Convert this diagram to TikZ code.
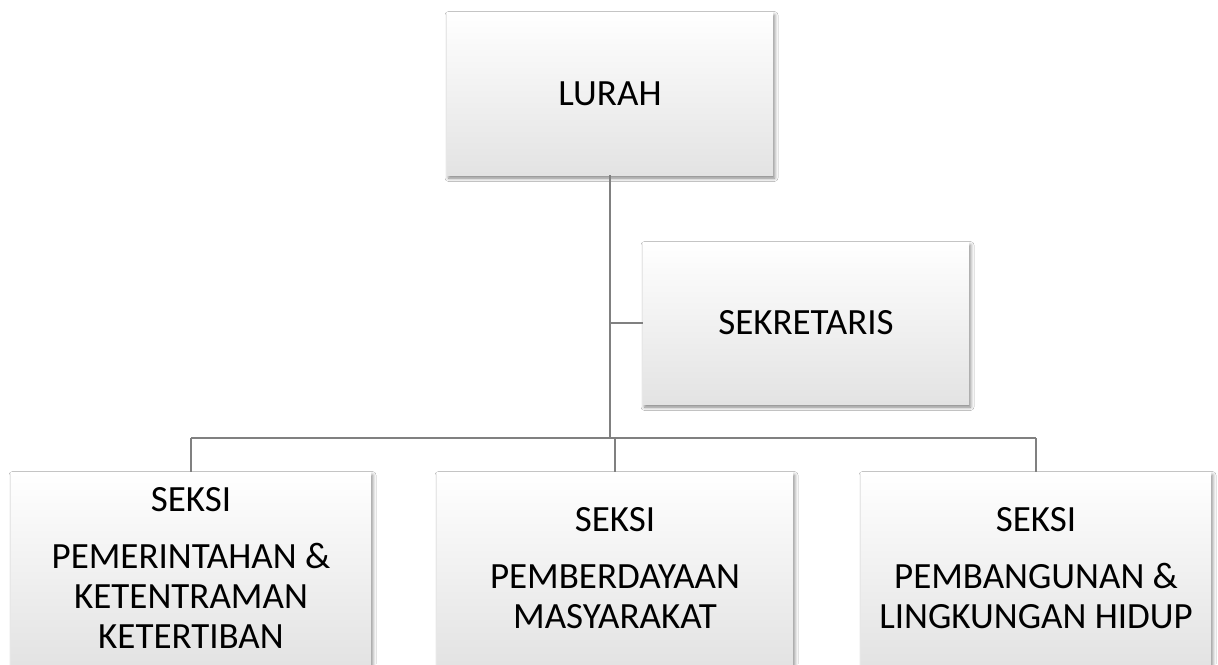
\documentclass[tikz,border=0pt]{standalone}
\usepackage{fontspec}
\setmainfont{Carlito}
\usetikzlibrary{shadows.blur}
\begin{document}
\begin{tikzpicture}[x=1pt,y=-1pt,
  orgbox/.style={rectangle, inner sep=0pt, outer sep=0pt,
    top color=white, middle color=white, bottom color=black!11,
    blur shadow={shadow xshift=1.5pt, shadow yshift=-3pt, shadow blur radius=3.5pt, shadow opacity=50},
    font=\fontsize{37}{40}\selectfont, align=center},
  link/.style={draw=black!50, line width=2.3pt}]
\clip (0,0) rectangle (1218,664);
\fill[white] (0,0) rectangle (1218,664);
% boxes
\node[orgbox, minimum width=326pt, minimum height=163pt] (lurah) at (610,93.5) {LURAH};
\node[orgbox, minimum width=326pt, minimum height=162pt] (sek) at (806,323) {SEKRETARIS};
\node[orgbox, anchor=north, minimum width=360pt, minimum height=192pt] (b1) at (191,472)
  {SEKSI\\[17pt]PEMERINTAHAN \&\\KETENTRAMAN\\KETERTIBAN};
\node[orgbox, anchor=north, minimum width=356pt, minimum height=192pt] (b2) at (615,472)
  {SEKSI\\[17pt]PEMBERDAYAAN\\MASYARAKAT};
\node[orgbox, anchor=north, minimum width=350pt, minimum height=192pt] (b3) at (1036,472)
  {SEKSI\\[17pt]PEMBANGUNAN \&\\LINGKUNGAN HIDUP};
\coordinate (bus) at ([yshift=34pt]lurah.south |- b1.north);
% connectors
\draw[link] (lurah.south) -- (bus);
\draw[link] (lurah.south |- sek.west) -- (sek.west);
\draw[link] (b1.north |- bus) -- (b3.north |- bus);
\draw[link] (b1.north |- bus) -- (b1.north);
\draw[link] (b2.north |- bus) -- (b2.north);
\draw[link] (b3.north |- bus) -- (b3.north);
\end{tikzpicture}
\end{document}
